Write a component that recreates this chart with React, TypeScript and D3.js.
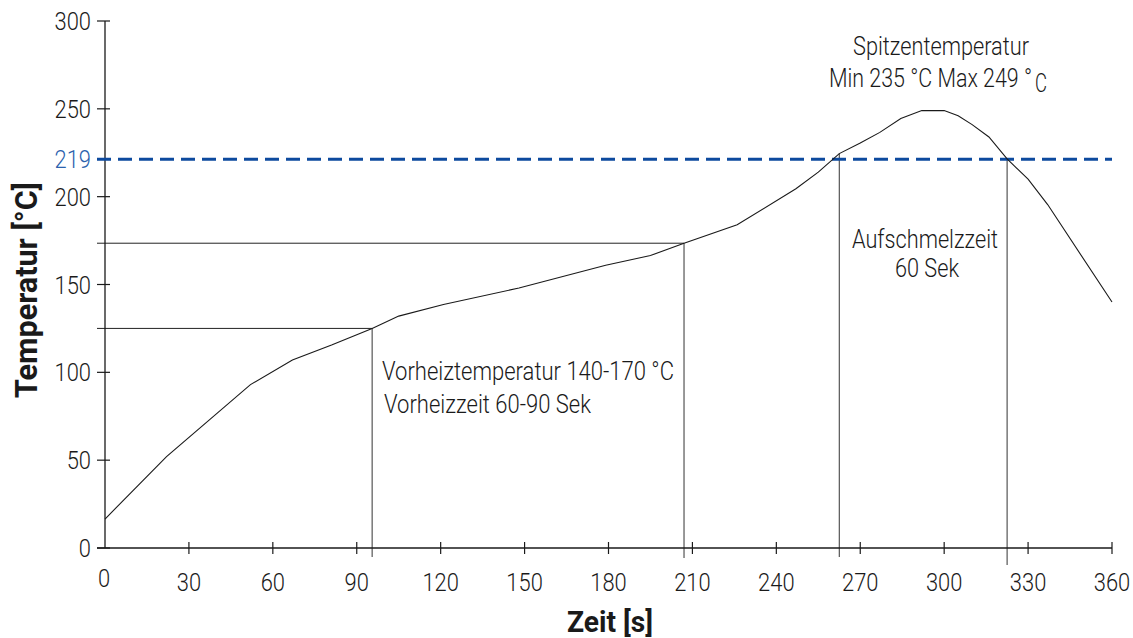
import React from 'react';
import * as d3 from 'd3';

const width = 1133;
const height = 638;

// reflow profile (time in s, temperature in °C)
const timeS = [0, 22, 52, 67, 81, 95.5, 105, 121, 148, 179, 195, 207, 226, 247, 255, 262.5, 270, 277, 284.5, 292, 300, 305, 310, 316, 322.5, 330, 337, 360];
const tempC = [16.5, 52, 93, 107, 115.5, 125, 132, 138.6, 148, 161, 166.5, 173.5, 184, 204.5, 214, 224.5, 230.5, 236.6, 244.5, 249, 249, 246, 241, 234, 221.5, 210, 195.5, 140];

const xTicks = [0, 30, 60, 90, 120, 150, 180, 210, 240, 270, 300, 330, 360];
const yTicks = [0, 50, 100, 150, 200, 250, 300];

// guide lines: vertical drops from the curve, horizontal lines to the axis
const dropTimes = [95.5, 207, 262.5, 322.5];
const dropTemps = [125, 173.5, 224.5, 221.5];
const dropOvershoot = [9, 10, 9, 17];
const levelTemps = [125, 173.5];
const levelTimes = [95.5, 207];

const liquidusLine = 221.3;
const liquidusLabel = '219';

const font = "Roboto, 'Liberation Sans', sans-serif";
const ink = '#1a1a1a';

const x = d3.scaleLinear().domain([0, 360]).range([105, 1112]);
const y = d3.scaleLinear().domain([0, 300]).range([548, 21]);

const line = d3.line<number>()
  .x((d, i) => x(timeS[i]))
  .y(d => y(d));

// narrow text: the original uses a condensed face, so squeeze to a given width
const Squeezed = ({ x, y, w, size = 25, anchor = 'start', bold = false, fill = ink, children }: any) => (
  <text x={x} y={y} textAnchor={anchor} fontSize={size} fontWeight={bold ? 700 : 300} fill={fill}
    textLength={w} lengthAdjust="spacingAndGlyphs">{children}</text>
);

const Tick = ({ x, y, anchor, fill = ink, children }: any) => (
  <text transform={`translate(${x},${y}) scale(0.86,1)`} textAnchor={anchor} fontSize={25.5} fontWeight={300} fill={fill}>
    {children}
  </text>
);

const App = () => {
  return (
    <svg width={width} height={height} style={{ position: 'absolute', left: 0, top: 0, background: '#fff' }}
      fontFamily={font}>
      {/* guide lines */}
      {dropTimes.map((t, i) => (
        <line key={'v' + i} x1={x(t)} x2={x(t)} y1={y(dropTemps[i])} y2={y(0) + dropOvershoot[i]}
          stroke="#333" strokeWidth={1} />
      ))}
      {levelTemps.map((v, i) => (
        <line key={'h' + i} x1={x(0) - 8} x2={x(levelTimes[i])} y1={y(v)} y2={y(v)}
          stroke="#222" strokeWidth={1} />
      ))}

      {/* axes */}
      <line x1={x(0)} x2={x(0)} y1={y(300)} y2={y(0)} stroke={ink} strokeWidth={1.3} />
      <line x1={x(0) - 8} x2={x(360)} y1={y(0)} y2={y(0)} stroke={ink} strokeWidth={1.3} />
      {yTicks.map(t => (
        <g key={'yt' + t}>
          <line x1={x(0) - 8} x2={x(0) + 5} y1={y(t)} y2={y(t)} stroke={ink} strokeWidth={1.2} />
          <Tick x={91} y={y(t) + 9} anchor="end">{t}</Tick>
        </g>
      ))}
      {xTicks.map(t => (
        <g key={'xt' + t}>
          {t > 0 && <line x1={x(t)} x2={x(t)} y1={y(0) - 6} y2={y(0) + 6} stroke={ink} strokeWidth={1.2} />}
          <Tick x={t === 0 ? x(t) - 1 : x(t)} y={t === 0 ? 587 : 591} anchor="middle">{t}</Tick>
        </g>
      ))}

      {/* liquidus */}
      <line x1={x(0) - 8} x2={x(360)} y1={y(liquidusLine)} y2={y(liquidusLine)}
        stroke="#0d4a9e" strokeWidth={3} strokeDasharray="14 7" />
      <Tick x={91} y={y(liquidusLine) + 9} anchor="end" fill="#2b62ad">{liquidusLabel}</Tick>

      {/* profile */}
      <path d={line(tempC) || ''} fill="none" stroke={ink} strokeWidth={1.1} />

      {/* annotations */}
      <Squeezed x={382} y={380} w={292}>Vorheiztemperatur 140-170 °C</Squeezed>
      <Squeezed x={384} y={413} w={207}>Vorheizzeit 60-90 Sek</Squeezed>
      <Squeezed x={852} y={248} w={146}>Aufschmelzzeit</Squeezed>
      <Squeezed x={895} y={277} w={64}>60 Sek</Squeezed>
      <Squeezed x={853} y={55} w={176}>Spitzentemperatur</Squeezed>
      <Squeezed x={829} y={87} w={203}>Min 235 °C Max 249 °</Squeezed>
      <Squeezed x={1035} y={92} w={12}>C</Squeezed>

      {/* axis titles */}
      <Squeezed x={567} y={632} w={86} size={30} bold>Zeit [s]</Squeezed>
      <g transform="translate(37, 398) rotate(-90)">
        <Squeezed x={0} y={0} w={216} size={31} bold>Temperatur [°C]</Squeezed>
      </g>
    </svg>
  );
};

export default App;
